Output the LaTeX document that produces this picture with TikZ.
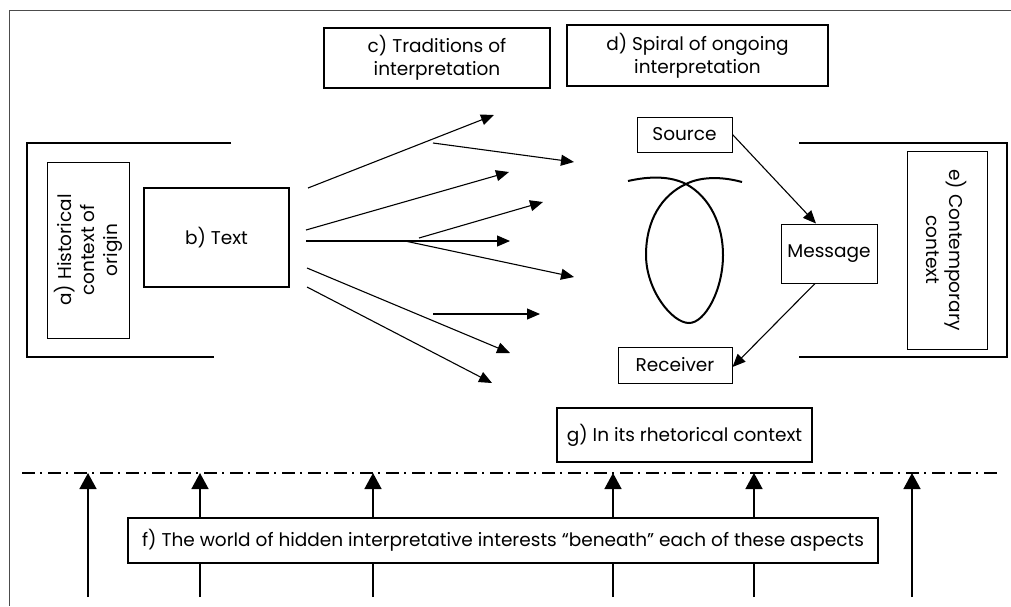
\documentclass[tikz,border=0pt]{standalone}
\usepackage{fontspec}
\setmainfont{Poppins}
\usetikzlibrary{arrows.meta}

\tikzset{
  heavybox/.style={draw, line width=2pt, fill=white, align=center, inner sep=0pt},
  lightbox/.style={draw, line width=1pt, fill=white, align=center, inner sep=0pt},
  fanarrow/.style={line width=1.1pt, -{Triangle[length=13pt,width=11pt]}},
  uparrow/.style={line width=1.5pt, -{Triangle[length=16pt,width=17pt]}},
  bracket/.style={line width=2pt},
}

\begin{document}
\begin{tikzpicture}[x=1pt,y=-1pt,font=\fontsize{18.5}{23}\selectfont]
    \useasboundingbox (0,0) rectangle (1011,606);
    \draw[black!70, line width=0.9pt] (1011,10) -- (9,10) -- (9,606);

    % left side
    \draw[bracket] (231,143) -- (27,143) -- (27,357) -- (214,357);
    \node[lightbox, rotate=90, minimum width=176, minimum height=82] (hist) at (88,250)
        {a) Historical\\context of\\origin};
    \node[heavybox, minimum width=145, minimum height=99] (text) at (216.5,237.5) {b) Text};

    % top boxes
    \node[heavybox, minimum width=226, minimum height=60] (trad) at (437,58)
        {c) Traditions of\\interpretation};
    \node[heavybox, minimum width=261, minimum height=61] (spiral) at (697.5,55.5)
        {d) Spiral of ongoing\\interpretation};

    % fan of arrows
    \foreach \n/\sx/\sy/\ex/\ey in {1/308/188/494/115, 2/433/143/574/162, 3/306/230/509/172,
        4/419/238/543/202, 5/306/241/510/241, 6/405/241/574/277, 7/433/314/540/314,
        8/307/268/510/353, 9/307/287/492/383} {
        \coordinate (fs\n) at (\sx,\sy);
        \coordinate (fe\n) at (\ex,\ey);
        \draw[fanarrow] (fs\n) -- (fe\n);
    }

    % loop
    \draw[line width=2pt] (628,181) .. controls (650,176) and (670,176) .. (686,184)
        .. controls (710,197) and (723,225) .. (723,255)
        .. controls (723,290) and (705,323) .. (689,323)
        .. controls (672,323) and (646,290) .. (646,255)
        .. controls (646,220) and (662,195) .. (686,184)
        .. controls (700,177) and (720,176) .. (742,182);

    % communication
    \node[lightbox, minimum width=95, minimum height=35] (src) at (684.5,134.5) {Source};
    \node[lightbox, minimum width=96, minimum height=59] (msg) at (829,253.5) {Message};
    \node[lightbox, minimum width=114, minimum height=36] (rcv) at (675,365) {Receiver};
    \draw[fanarrow] (src.east) -- ([xshift=-13pt]msg.north);
    \draw[fanarrow] ([xshift=-14pt]msg.south) -- ([yshift=-2pt]rcv.east);

    % right side
    \draw[bracket] (799,143) -- (1007,143) -- (1007,357) -- (799,357);
    \node[lightbox, rotate=-90, minimum width=198, minimum height=80] (cont) at (947,250)
        {e) Contemporary\\context};

    % bottom
    \node[heavybox, minimum width=255, minimum height=54] (rhet) at (684.5,435)
        {g) In its rhetorical context};
    \draw[line width=2pt, dash pattern=on 13pt off 5pt on 2pt off 6pt] (22,473) -- (997,473);
    \foreach \x in {88,200,373,613,754,912} {
        \coordinate (lo\x) at (\x,597);
        \coordinate (hi\x) at (\x,473);
        \draw[uparrow] (lo\x) -- (hi\x);
    }
    \node[heavybox, minimum width=750, minimum height=45] (hidden) at (503,540.5)
        {f) The world of hidden interpretative interests “beneath” each of these aspects};
\end{tikzpicture}
\end{document}
